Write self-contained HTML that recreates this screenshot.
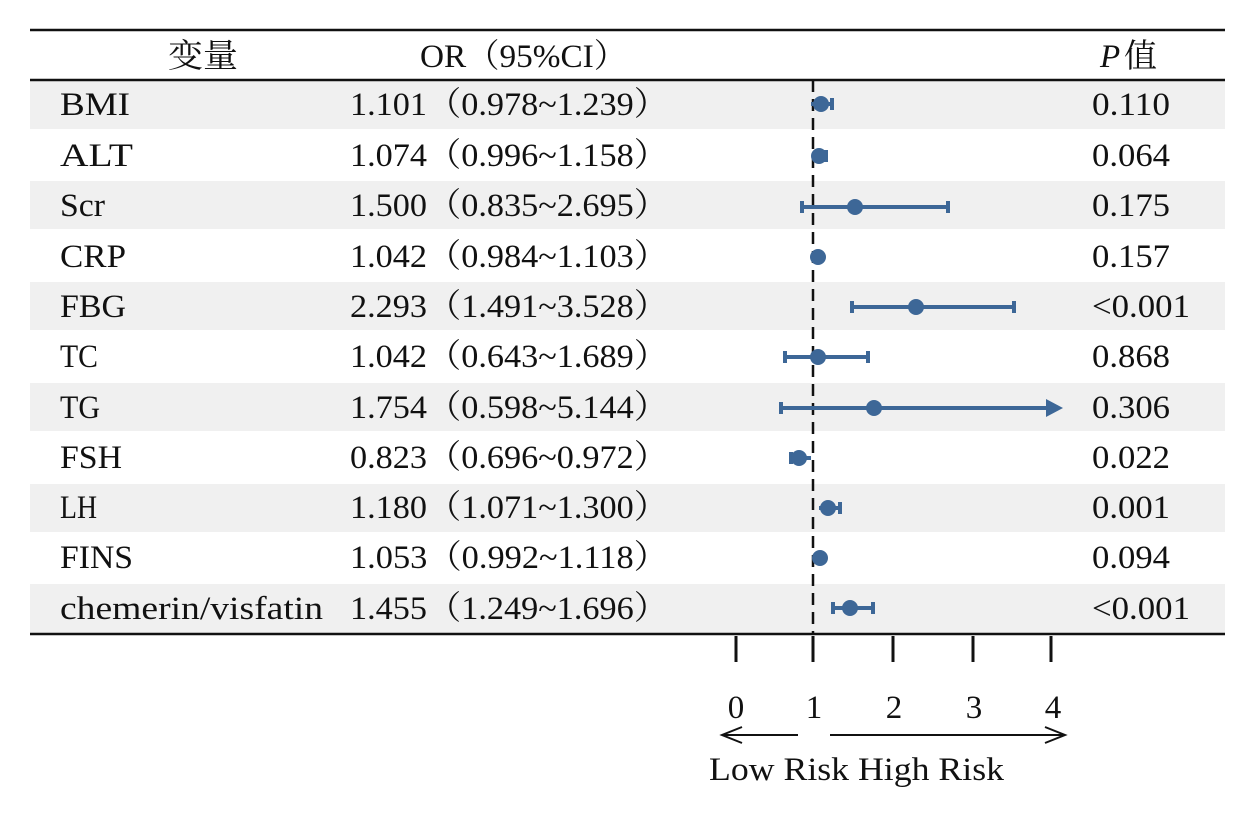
<!DOCTYPE html>
<html><head><meta charset="utf-8"><style>
html,body{margin:0;padding:0;background:#fff;}
svg{display:block;}
text{font-family:"Liberation Serif","Noto Serif CJK SC",serif;font-size:33px;fill:#111;}
</style></head><body>
<svg width="1260" height="816" viewBox="0 0 1260 816" xmlns="http://www.w3.org/2000/svg">
<rect width="1260" height="816" fill="#fff"/>
<g fill="#f0f0f0">
<rect x="30" y="81" width="1195" height="48"/>
<rect x="30" y="181" width="1195" height="48"/>
<rect x="30" y="282" width="1195" height="48"/>
<rect x="30" y="383" width="1195" height="48"/>
<rect x="30" y="484" width="1195" height="48"/>
<rect x="30" y="584" width="1195" height="50"/>
</g>
<line x1="30" y1="30" x2="1225" y2="30" stroke="#111" stroke-width="2.5"/>
<line x1="30" y1="80" x2="1225" y2="80" stroke="#111" stroke-width="2.5"/>
<line x1="30" y1="634" x2="1225" y2="634" stroke="#111" stroke-width="2.5"/>
<text x="168" y="67" textLength="70" lengthAdjust="spacingAndGlyphs">变量</text>
<text x="420" y="67" textLength="207" lengthAdjust="spacingAndGlyphs">OR（95%CI）</text>
<text x="1100" y="67" font-style="italic">P</text><text x="1124" y="67">值</text>
<g>
<text x="60" y="115" textLength="70" lengthAdjust="spacingAndGlyphs">BMI</text>
<text x="60" y="166" textLength="73" lengthAdjust="spacingAndGlyphs">ALT</text>
<text x="60" y="216" textLength="45" lengthAdjust="spacingAndGlyphs">Scr</text>
<text x="60" y="267" textLength="66" lengthAdjust="spacingAndGlyphs">CRP</text>
<text x="60" y="317" textLength="66" lengthAdjust="spacingAndGlyphs">FBG</text>
<text x="60" y="367" textLength="38" lengthAdjust="spacingAndGlyphs">TC</text>
<text x="60" y="418" textLength="40" lengthAdjust="spacingAndGlyphs">TG</text>
<text x="60" y="468" textLength="62" lengthAdjust="spacingAndGlyphs">FSH</text>
<text x="60" y="518" textLength="37" lengthAdjust="spacingAndGlyphs">LH</text>
<text x="60" y="568" textLength="73" lengthAdjust="spacingAndGlyphs">FINS</text>
<text x="60" y="619" textLength="263" lengthAdjust="spacingAndGlyphs">chemerin/visfatin</text>
</g>
<g>
<text x="350" y="115" textLength="318" lengthAdjust="spacingAndGlyphs">1.101（0.978~1.239）</text>
<text x="350" y="166" textLength="318" lengthAdjust="spacingAndGlyphs">1.074（0.996~1.158）</text>
<text x="350" y="216" textLength="318" lengthAdjust="spacingAndGlyphs">1.500（0.835~2.695）</text>
<text x="350" y="267" textLength="318" lengthAdjust="spacingAndGlyphs">1.042（0.984~1.103）</text>
<text x="350" y="317" textLength="318" lengthAdjust="spacingAndGlyphs">2.293（1.491~3.528）</text>
<text x="350" y="367" textLength="318" lengthAdjust="spacingAndGlyphs">1.042（0.643~1.689）</text>
<text x="350" y="418" textLength="318" lengthAdjust="spacingAndGlyphs">1.754（0.598~5.144）</text>
<text x="350" y="468" textLength="318" lengthAdjust="spacingAndGlyphs">0.823（0.696~0.972）</text>
<text x="350" y="518" textLength="318" lengthAdjust="spacingAndGlyphs">1.180（1.071~1.300）</text>
<text x="350" y="568" textLength="318" lengthAdjust="spacingAndGlyphs">1.053（0.992~1.118）</text>
<text x="350" y="619" textLength="318" lengthAdjust="spacingAndGlyphs">1.455（1.249~1.696）</text>
</g>
<g>
<text x="1092" y="115" textLength="78" lengthAdjust="spacingAndGlyphs">0.110</text>
<text x="1092" y="166" textLength="78" lengthAdjust="spacingAndGlyphs">0.064</text>
<text x="1092" y="216" textLength="78" lengthAdjust="spacingAndGlyphs">0.175</text>
<text x="1092" y="267" textLength="78" lengthAdjust="spacingAndGlyphs">0.157</text>
<text x="1092" y="317" textLength="98" lengthAdjust="spacingAndGlyphs">&lt;0.001</text>
<text x="1092" y="367" textLength="78" lengthAdjust="spacingAndGlyphs">0.868</text>
<text x="1092" y="418" textLength="78" lengthAdjust="spacingAndGlyphs">0.306</text>
<text x="1092" y="468" textLength="78" lengthAdjust="spacingAndGlyphs">0.022</text>
<text x="1092" y="518" textLength="78" lengthAdjust="spacingAndGlyphs">0.001</text>
<text x="1092" y="568" textLength="78" lengthAdjust="spacingAndGlyphs">0.094</text>
<text x="1092" y="619" textLength="98" lengthAdjust="spacingAndGlyphs">&lt;0.001</text>
</g>
<line x1="813" y1="80" x2="813" y2="634" stroke="#111" stroke-width="2.5" stroke-dasharray="12,7"/>
<g stroke="#3d6797" stroke-width="4" fill="#3d6797">
<line x1="811" y1="104" x2="832" y2="104"/><line x1="832" y1="98" x2="832" y2="110"/><circle cx="821" cy="104" r="8" stroke="none"/>
<line x1="813" y1="156" x2="826" y2="156"/><line x1="826" y1="150" x2="826" y2="162"/><circle cx="819" cy="156" r="8" stroke="none"/>
<line x1="802" y1="207" x2="948" y2="207"/><line x1="802" y1="201" x2="802" y2="213"/><line x1="948" y1="201" x2="948" y2="213"/><circle cx="855" cy="207" r="8" stroke="none"/>
<circle cx="818" cy="257" r="8" stroke="none"/>
<line x1="852" y1="307" x2="1014" y2="307"/><line x1="852" y1="301" x2="852" y2="313"/><line x1="1014" y1="301" x2="1014" y2="313"/><circle cx="916" cy="307" r="8" stroke="none"/>
<line x1="785" y1="357" x2="868" y2="357"/><line x1="785" y1="351" x2="785" y2="363"/><line x1="868" y1="351" x2="868" y2="363"/><circle cx="818" cy="357" r="8" stroke="none"/>
<line x1="781" y1="408" x2="1050" y2="408"/><line x1="781" y1="402" x2="781" y2="414"/><polygon points="1046,399 1063,408 1046,417" stroke="none"/><circle cx="874" cy="408" r="8" stroke="none"/>
<line x1="791" y1="458" x2="811" y2="458"/><line x1="791" y1="452" x2="791" y2="464"/><circle cx="799" cy="458" r="8" stroke="none"/>
<line x1="819" y1="508" x2="840" y2="508"/><line x1="840" y1="502" x2="840" y2="514"/><circle cx="828" cy="508" r="8" stroke="none"/>
<circle cx="820" cy="558" r="8" stroke="none"/>
<line x1="833" y1="608" x2="873" y2="608"/><line x1="833" y1="602" x2="833" y2="614"/><line x1="873" y1="602" x2="873" y2="614"/><circle cx="850" cy="608" r="8" stroke="none"/>
</g>
<g stroke="#111" stroke-width="3">
<line x1="736" y1="636" x2="736" y2="662"/>
<line x1="813" y1="636" x2="813" y2="662"/>
<line x1="893" y1="636" x2="893" y2="662"/>
<line x1="973" y1="636" x2="973" y2="662"/>
<line x1="1051" y1="636" x2="1051" y2="662"/>
</g>
<g text-anchor="middle">
<text x="736" y="718">0</text><text x="814" y="718">1</text><text x="894" y="718">2</text><text x="974" y="718">3</text><text x="1053" y="718">4</text>
</g>
<g stroke="#111" stroke-width="2" fill="none">
<line x1="722" y1="735" x2="798" y2="735"/><polyline points="742,727 722,735 742,743"/>
<line x1="830" y1="735" x2="1065" y2="735"/><polyline points="1045,727 1065,735 1045,743"/>
</g>
<text x="709" y="780" textLength="295" lengthAdjust="spacingAndGlyphs">Low Risk  High Risk</text>
</svg>
</body></html>
